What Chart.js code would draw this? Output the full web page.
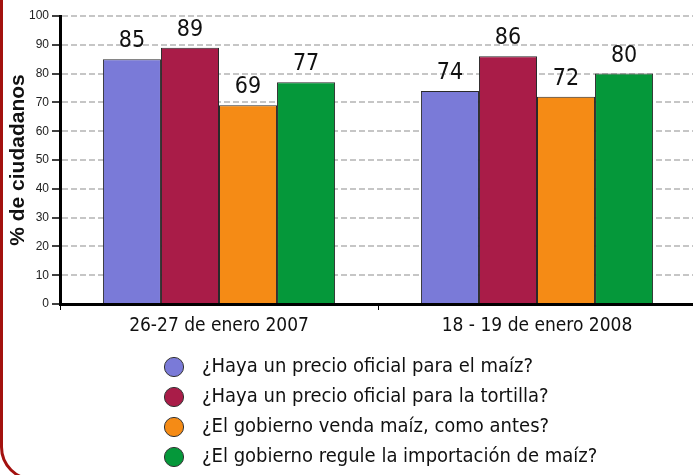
<!DOCTYPE html>
<html>
<head>
<meta charset="utf-8">
<script src="https://cdn.jsdelivr.net/npm/chart.js@4/dist/chart.umd.min.js"></script>
<style>
  html, body { margin: 0; padding: 0; overflow: hidden; background: #ffffff; width: 693px; height: 475px; }
  #wrap { position: relative; width: 693px; height: 475px; overflow: hidden; }
  #c { position: absolute; left: 0; top: 0; }
  #frame { position: absolute; left: 0; top: -100px; width: 1000px; height: 581px; box-sizing: border-box;
           border: 3px solid #a3110f; border-radius: 34px; pointer-events: none; }
</style>
</head>
<body>
<div id="wrap">
  <canvas id="c" width="696" height="477"></canvas>
  <div id="frame"></div>
</div>
<script>
// ---- data ----
const categories = ['26-27 de enero 2007', '18 - 19 de enero 2008'];
const seriesNames = [
  '¿Haya un precio oficial para el maíz?',
  '¿Haya un precio oficial para la tortilla?',
  '¿El gobierno venda maíz, como antes?',
  '¿El gobierno regule la importación de maíz?'
];
const precioMaiz = [85, 74];
const precioTortilla = [89, 86];
const vendaMaiz = [69, 72];
const regulaImportacion = [77, 80];
const yAxisTitle = '% de ciudadanos';
const yMin = 0, yMax = 100, yStep = 10;

// ---- styles ----
const colors = ['#7a7ad8', '#a91c48', '#f58b15', '#05983a'];
const NARROW = '"DejaVu Sans Condensed", "Liberation Sans Narrow", sans-serif';
const SANS = '"Liberation Sans", Arial, sans-serif';

// legend marker: a round dot drawn off-centre so the text sits further right
function legendDot(color) {
  const c = document.createElement('canvas');
  c.width = 40; c.height = 22;
  const g = c.getContext('2d');
  g.beginPath();
  g.arc(12, 11, 9.6, 0, Math.PI * 2);
  g.fillStyle = color;
  g.fill();
  g.lineWidth = 1;
  g.strokeStyle = '#333333';
  g.stroke();
  return c;
}

const seriesValues = [precioMaiz, precioTortilla, vendaMaiz, regulaImportacion];
const datasets = seriesNames.map((name, i) => ({
  label: name,
  data: seriesValues[i],
  backgroundColor: colors[i],
  borderColor: '#2a2a2a',
  borderWidth: 1,
  pointStyle: legendDot(colors[i]),
  categoryPercentage: 0.73,
  barPercentage: 1.0
}));

const valueLabels = {
  id: 'valueLabels',
  afterDatasetsDraw(chart) {
    const ctx = chart.ctx;
    ctx.save();
    ctx.font = '23px ' + NARROW;
    ctx.fillStyle = '#111111';
    ctx.textAlign = 'center';
    ctx.textBaseline = 'alphabetic';
    chart.data.datasets.forEach((ds, i) => {
      chart.getDatasetMeta(i).data.forEach((bar, j) => {
        ctx.fillText(String(ds.data[j]), bar.x, bar.y - 12);
      });
    });
    ctx.restore();
  }
};

const legendShift = {
  id: 'legendShift',
  afterLayout(chart) {
    if (chart.legend) chart.legend.left = 162;
  }
};

new Chart(document.getElementById('c'), {
  type: 'bar',
  data: { labels: categories, datasets },
  plugins: [valueLabels, legendShift],
  options: {
    responsive: false,
    animation: false,
    devicePixelRatio: 1,
    layout: { padding: { top: 16, left: 0, right: 0, bottom: 0 } },
    plugins: {
      tooltip: { enabled: false },
      legend: {
        position: 'bottom',
        align: 'start',
        labels: {
          font: { family: NARROW, size: 20 },
          color: '#111111',
          usePointStyle: true,
          boxWidth: 20,
          boxHeight: 20,
          padding: 10
        }
      }
    },
    scales: {
      x: {
        offset: true,
        grid: { drawOnChartArea: false, drawTicks: true, tickLength: 6, tickColor: '#000', tickWidth: 1, offset: true },
        border: { display: true, color: '#000', width: 3 },
        ticks: { font: { family: NARROW, size: 19 }, color: '#111111', padding: 5 },
        afterFit(scale) { scale.height = 43; }
      },
      y: {
        min: yMin, max: yMax,
        grid: { color: '#c6c6c6', lineWidth: 2, tickLength: 8, tickColor: '#000', tickWidth: 1.5, tickBorderDash: [] },
        border: { display: true, color: '#000', width: 3, dash: [6, 3] },
        ticks: { stepSize: yStep, font: { family: SANS, size: 12 }, color: '#222222', padding: 3 },
        title: { display: true, text: yAxisTitle, font: { family: SANS, size: 21, weight: 'bold' }, color: '#111111', padding: { top: 6, bottom: 0 } },
        afterFit(scale) { scale.width = 60; }
      }
    }
  }
});
</script>
</body>
</html>
